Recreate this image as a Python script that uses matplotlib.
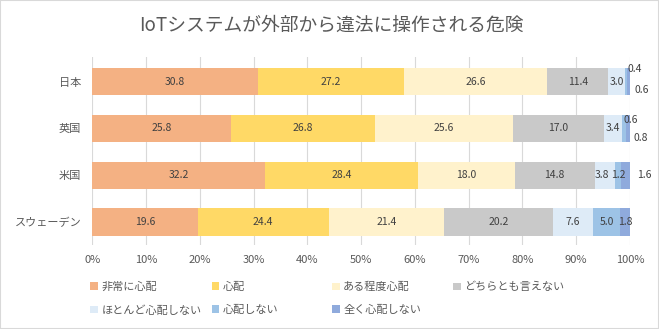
import matplotlib.pyplot as plt
import numpy as np

plt.rcParams['font.family'] = ['Noto Sans CJK JP', 'DejaVu Sans']

categories = ['日本', '英国', '米国', 'スウェーデン']
series_names = ['非常に心配', '心配', 'ある程度心配', 'どちらとも言えない',
                'ほとんど心配しない', '心配しない', '全く心配しない']
values = [
    [30.8, 25.8, 32.2, 19.6],
    [27.2, 26.8, 28.4, 24.4],
    [26.6, 25.6, 18.0, 21.4],
    [11.4, 17.0, 14.8, 20.2],
    [3.0, 3.4, 3.8, 7.6],
    [0.4, 0.6, 1.2, 5.0],
    [0.6, 0.8, 1.6, 1.8],
]
colors = ['#F4B183', '#FFD966', '#FFF2CC', '#C9C9C9', '#DEEBF7', '#9DC3E6', '#8FAADC']

# labels of thin segments that sit outside the bar: (series, category) -> (x, dy points)
outside = {(5, 0): (100.9, 9), (6, 0): (102.2, -6),
           (5, 1): (100.2, 6), (6, 1): (102.0, -7),
           (6, 2): (102.6, 0)}

fig = plt.figure(figsize=(6.59, 3.29), dpi=100)
fig.patches.append(plt.Rectangle((0, 0), 1, 1, transform=fig.transFigure,
                                 fill=False, edgecolor='#D9D9D9', linewidth=1.5))
ax = fig.add_axes([0.140, 0.2553, 0.816, 0.5724])

y = np.arange(len(categories))[::-1]
left = np.zeros(len(categories))
handles = []
for i, (name, vals) in enumerate(zip(series_names, values)):
    vals = np.array(vals)
    h = ax.barh(y, vals, left=left, height=0.58, color=colors[i], label=name, zorder=3)
    handles.append(h)
    for j, v in enumerate(vals):
        cx, dy, dx = left[j] + v / 2, 0, 0
        if (i, j) in outside:
            cx, dy = outside[(i, j)]
        if (i, j) == (4, 2):
            dx = -2
        ax.annotate(f'{v:.1f}', (cx, y[j]), xytext=(dx, dy), textcoords='offset points',
                    ha='center', va='center', fontsize=7.5, color='#404040',
                    annotation_clip=False, zorder=4)
    left += vals

ax.set_xlim(0, 100)
ax.set_ylim(-0.49, 3.53)
ax.set_xticks(np.arange(0, 101, 10))
ax.set_xticklabels([f'{t}%' for t in range(0, 101, 10)])
ax.set_yticks(y)
ax.set_yticklabels(categories)
ax.tick_params(axis='both', length=0, labelsize=8, labelcolor='#595959')
ax.tick_params(axis='x', pad=7)
ax.tick_params(axis='y', pad=8)
ax.grid(axis='x', color='#D9D9D9', linewidth=0.8, zorder=0)
for s in ax.spines.values():
    s.set_visible(False)

fig.text(0.503, 0.922, 'IoTシステムが外部から違法に操作される危険', ha='center', va='center',
         fontsize=13.5, color='#595959')

# legend laid out row by row, four columns
col_x = [0.137, 0.321, 0.504, 0.688]
cols = [[0, 4], [1, 5], [2, 6], [3]]
for x, idx in zip(col_x, cols):
    fig.legend([handles[k] for k in idx], [series_names[k] for k in idx],
               loc='upper left', bbox_to_anchor=(x, 0.143), frameon=False,
               fontsize=8, labelcolor='#595959', handlelength=0.7, handleheight=0.7,
               handletextpad=0.3, labelspacing=1.15, borderpad=0, borderaxespad=0)

plt.savefig('out.png', dpi=100)
